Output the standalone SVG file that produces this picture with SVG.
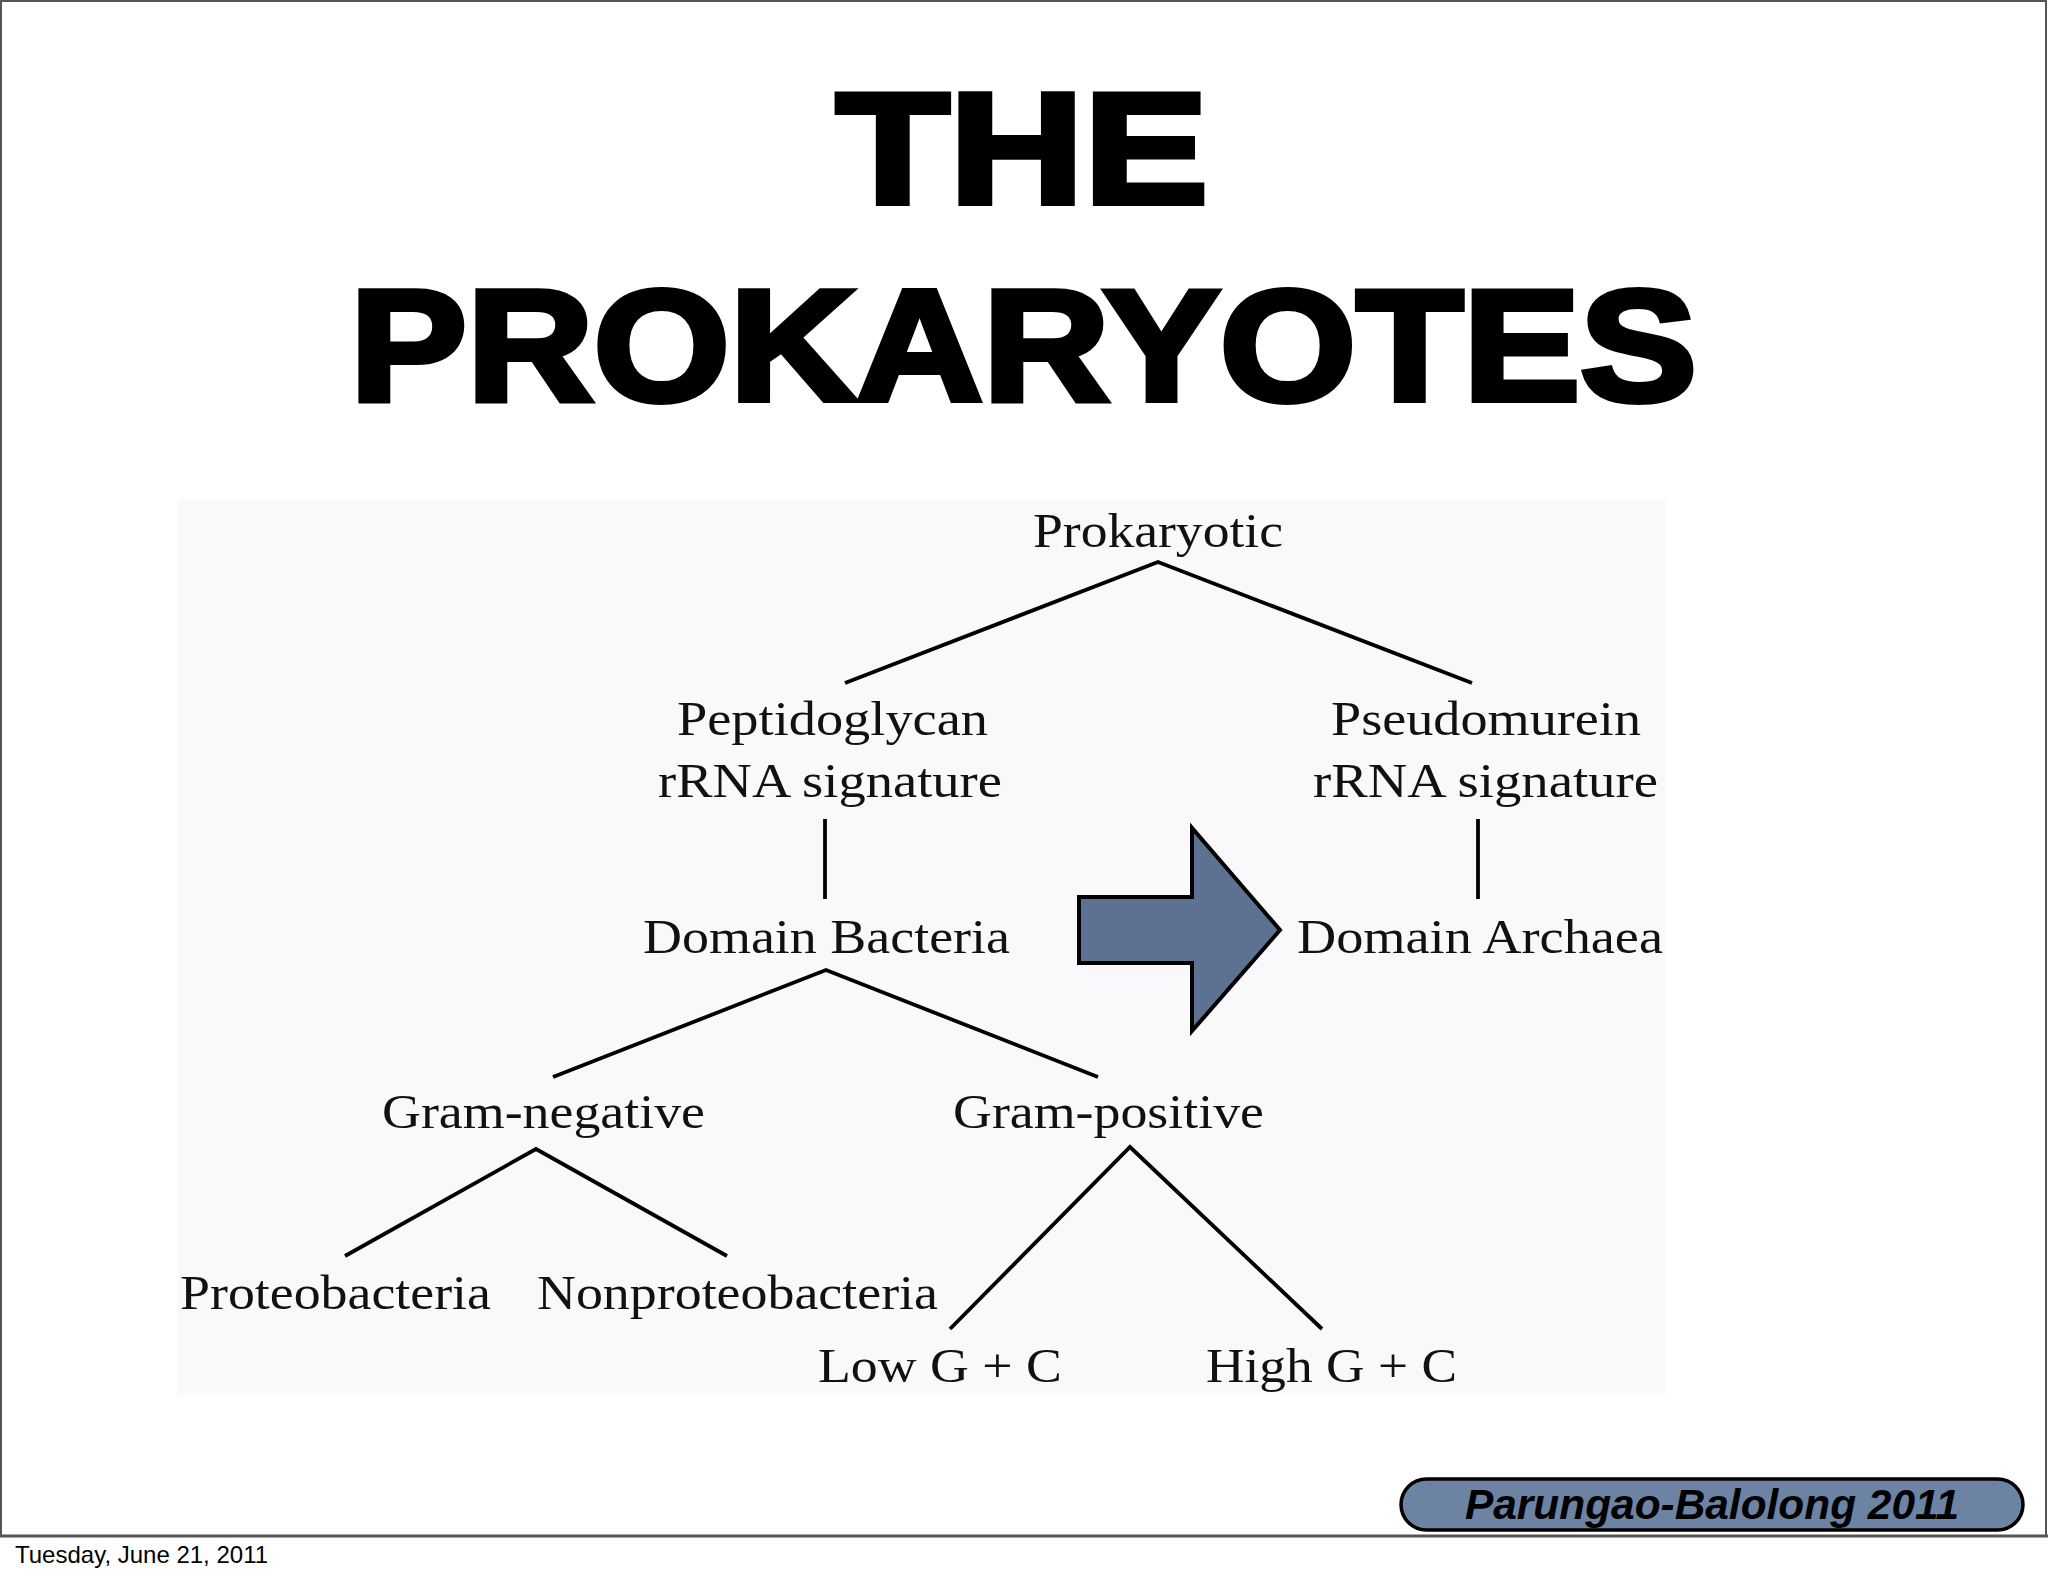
<svg xmlns="http://www.w3.org/2000/svg" width="2048" height="1576" viewBox="0 0 2048 1576">
<style>
.title{font-family:"Liberation Sans",Arial,sans-serif;font-weight:bold;font-size:158px;fill:#000;stroke:#000;stroke-width:6px}
.lbl{font-family:"Liberation Serif","Times New Roman",serif;font-size:49px;fill:#111}
.edge{stroke:#000;stroke-width:3.8;fill:none;stroke-linecap:butt;stroke-linejoin:miter}
.date{font-family:"Liberation Sans",Arial,sans-serif;font-size:24px;fill:#000}
.credit{font-family:"Liberation Sans",Arial,sans-serif;font-weight:bold;font-style:italic;font-size:42px;fill:#000}
</style>
<rect x="0" y="0" width="2048" height="1576" fill="#fff"/>
<rect x="1" y="1" width="2045" height="1535" fill="#fff" stroke="#555" stroke-width="2"/>
<line x1="0" y1="1536" x2="2048" y2="1536" stroke="#555" stroke-width="3"/>

<g id="title">
<text class="title" x="836" y="203" textLength="372" lengthAdjust="spacingAndGlyphs">THE</text>
<text class="title" x="350" y="400" textLength="1347" lengthAdjust="spacingAndGlyphs">PROKARYOTES</text>
</g>

<rect id="diagram-bg" x="178" y="500" width="1488" height="895" fill="#f9f9fb"/>

<g id="connectors">
<polyline class="edge" points="845,683 1158,562 1472,683"/>
<line class="edge" x1="825" y1="819" x2="825" y2="899"/>
<line class="edge" x1="1478" y1="819" x2="1478" y2="899"/>
<polyline class="edge" points="553,1077 826,970 1098,1077"/>
<polyline class="edge" points="345,1256 536,1149 727,1256"/>
<polyline class="edge" points="950,1329 1130,1147 1322,1329"/>
</g>

<g id="node-prokaryotic"><text class="lbl" x="1033" y="547" textLength="250" lengthAdjust="spacingAndGlyphs">Prokaryotic</text></g>
<g id="node-peptidoglycan">
<text class="lbl" x="677" y="735" textLength="311" lengthAdjust="spacingAndGlyphs">Peptidoglycan</text>
<text class="lbl" x="658" y="797" textLength="344" lengthAdjust="spacingAndGlyphs">rRNA signature</text>
</g>
<g id="node-pseudomurein">
<text class="lbl" x="1331" y="735" textLength="310" lengthAdjust="spacingAndGlyphs">Pseudomurein</text>
<text class="lbl" x="1313" y="797" textLength="345" lengthAdjust="spacingAndGlyphs">rRNA signature</text>
</g>
<g id="node-bacteria"><text class="lbl" x="643" y="953" textLength="367" lengthAdjust="spacingAndGlyphs">Domain Bacteria</text></g>
<g id="node-archaea"><text class="lbl" x="1297" y="953" textLength="366" lengthAdjust="spacingAndGlyphs">Domain Archaea</text></g>
<g id="node-gramneg"><text class="lbl" x="382" y="1128" textLength="323" lengthAdjust="spacingAndGlyphs">Gram-negative</text></g>
<g id="node-grampos"><text class="lbl" x="953" y="1128" textLength="311" lengthAdjust="spacingAndGlyphs">Gram-positive</text></g>
<g id="node-proteo"><text class="lbl" x="180" y="1309" textLength="311" lengthAdjust="spacingAndGlyphs">Proteobacteria</text></g>
<g id="node-nonproteo"><text class="lbl" x="537" y="1309" textLength="401" lengthAdjust="spacingAndGlyphs">Nonproteobacteria</text></g>
<g id="node-lowgc"><text class="lbl" x="818" y="1382" textLength="244" lengthAdjust="spacingAndGlyphs">Low G + C</text></g>
<g id="node-highgc"><text class="lbl" x="1206" y="1382" textLength="251" lengthAdjust="spacingAndGlyphs">High G + C</text></g>

<g id="big-arrow">
<polygon points="1079,897 1192,897 1192,828 1280,930 1192,1031 1192,963 1079,963" fill="#5d7293" stroke="#000" stroke-width="4" stroke-linejoin="miter"/>
</g>

<g id="credit">
<rect x="1401" y="1479" width="622" height="51" rx="25.5" fill="#6c83a3" stroke="#000" stroke-width="3.5"/>
<text class="credit" x="1465" y="1519" textLength="494" lengthAdjust="spacingAndGlyphs">Parungao-Balolong 2011</text>
</g>

<text class="date" x="15" y="1563">Tuesday, June 21, 2011</text>
</svg>
